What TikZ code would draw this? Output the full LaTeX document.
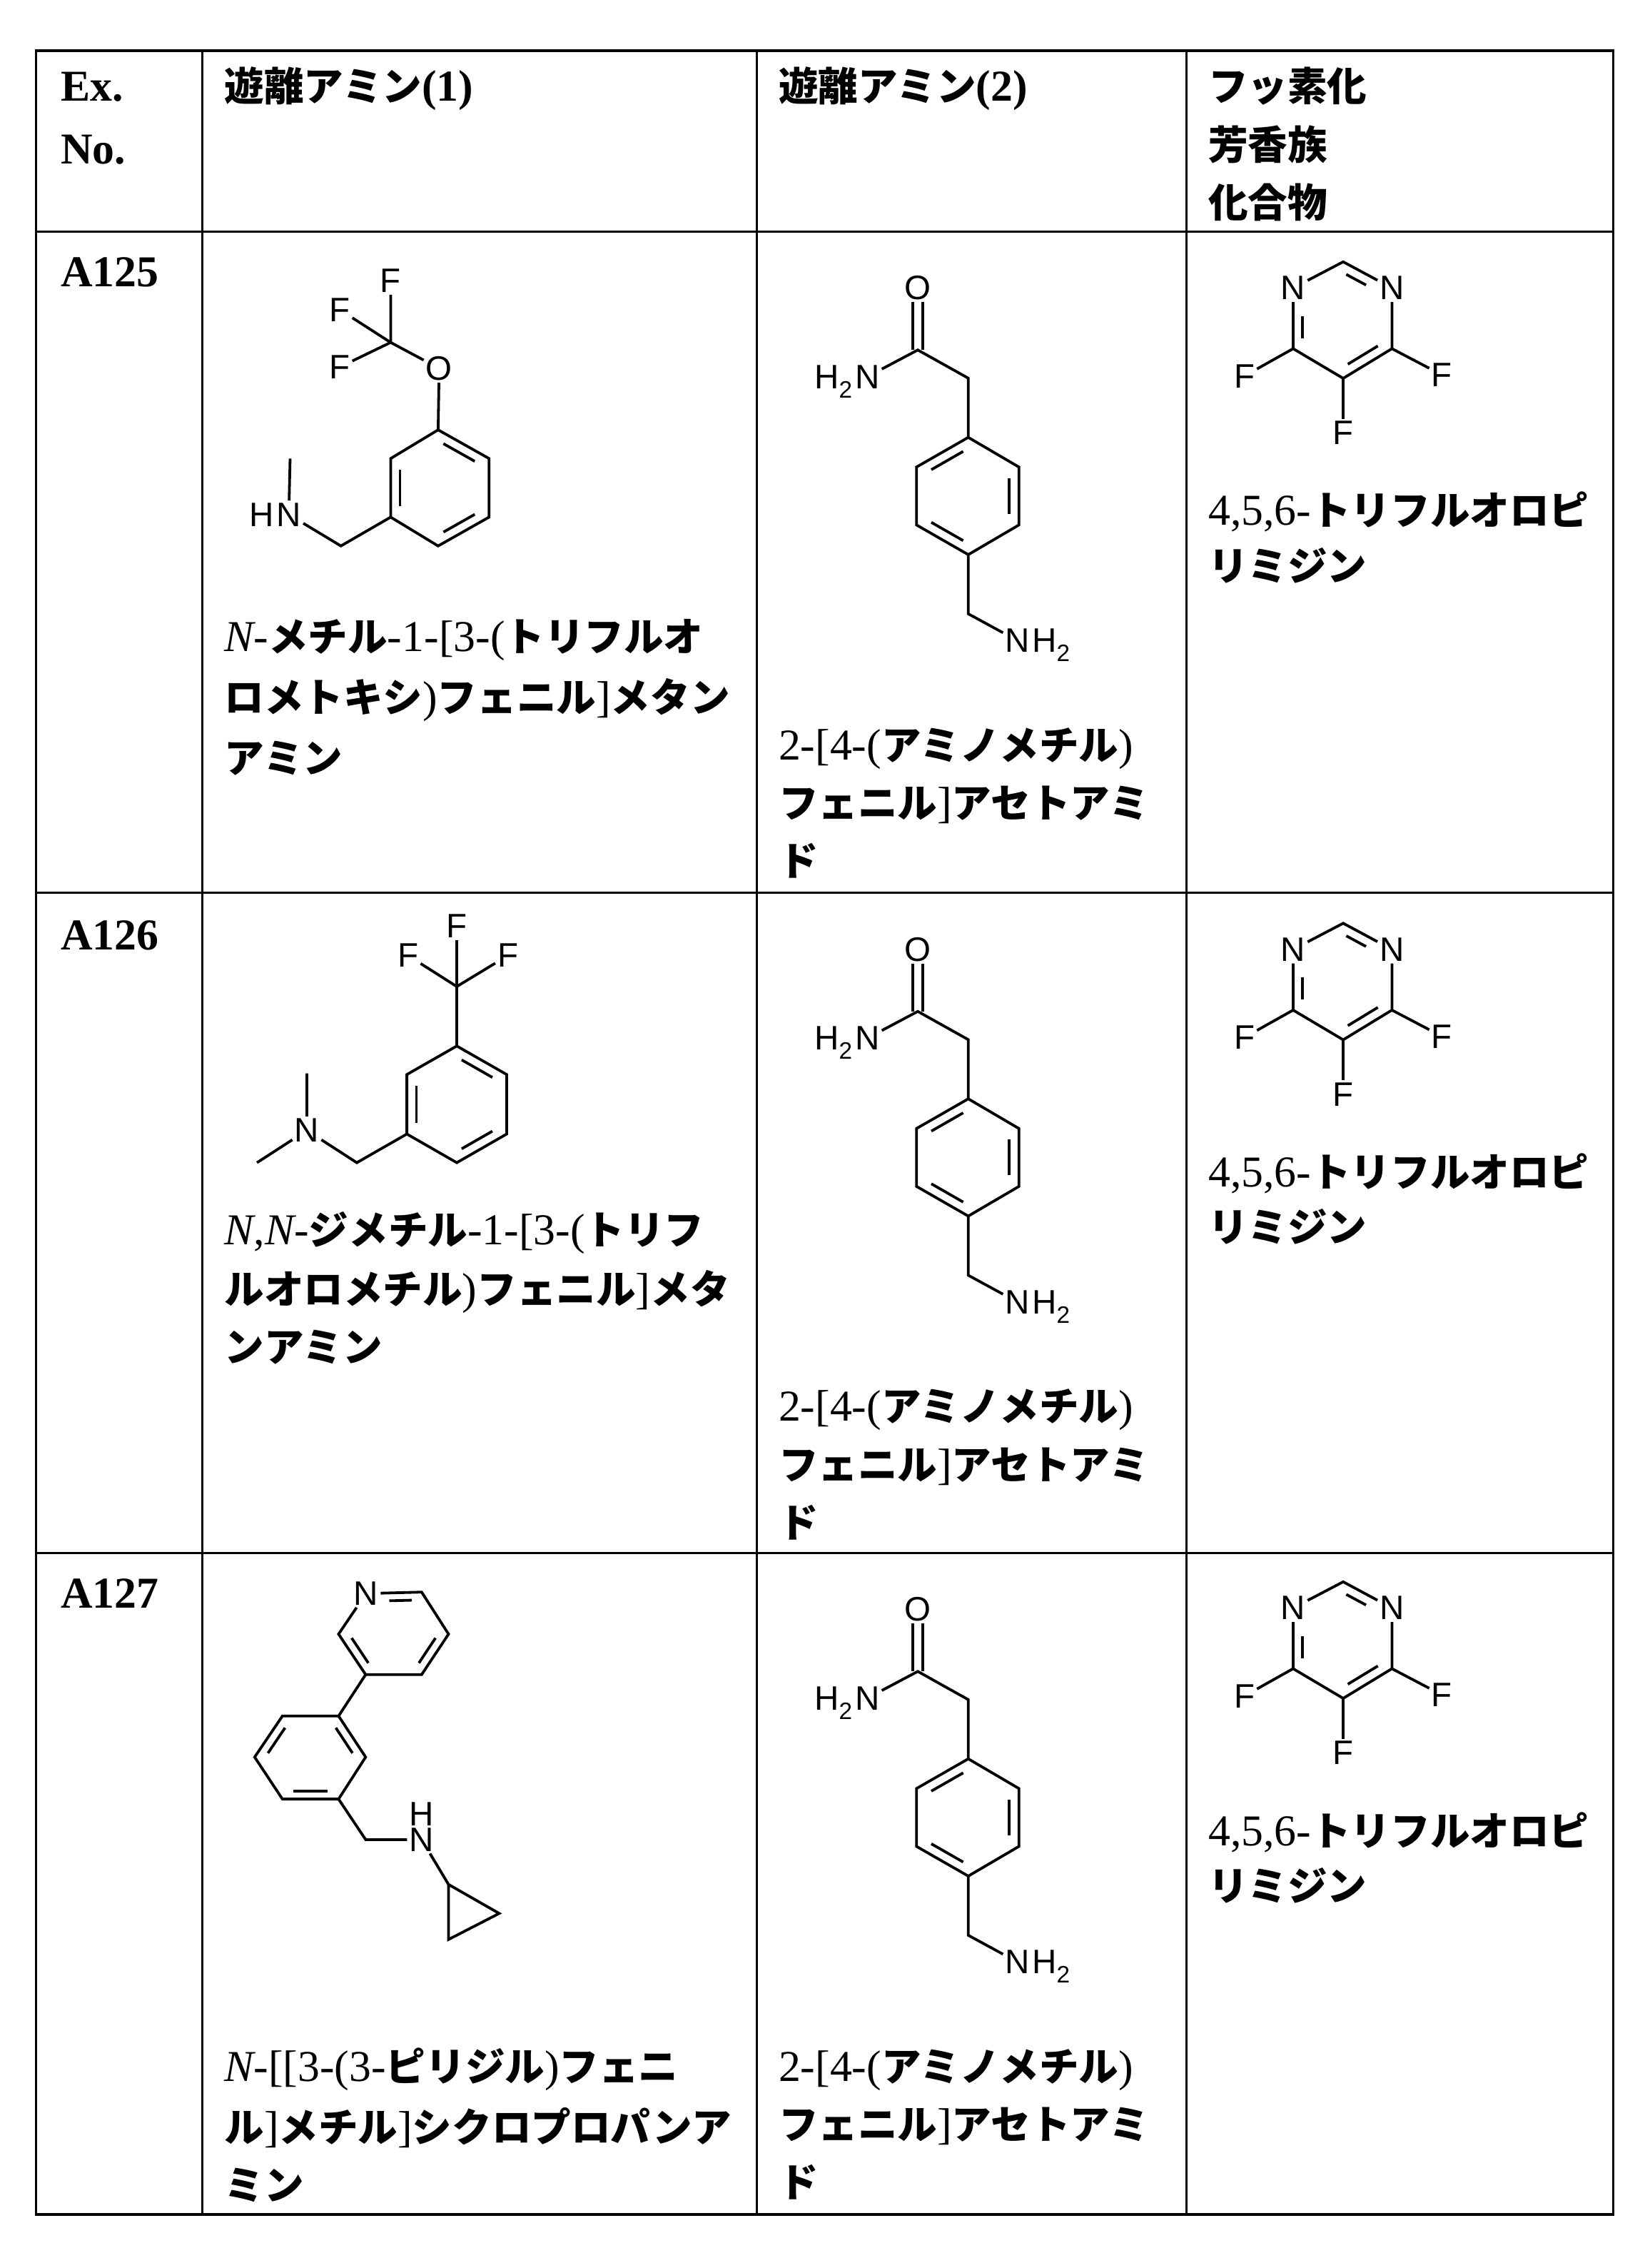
\documentclass[tikz,border=0pt]{standalone}
\usepackage{fontspec}
\setmainfont{Liberation Serif}
\newfontfamily\jpf[Scale=0.9]{Noto Sans CJK JP}
\newcommand\jp{\jpf\bfseries}
\newfontfamily\atomf{Liberation Sans}
\usetikzlibrary{calc}
\tikzset{
 bond/.style={line width=3.2pt},
 atom/.style={font=\atomf\fontsize{40}{40}\selectfont, inner sep=2.5pt},
 lab/.style={font=\atomf\fontsize{40}{40}\selectfont, inner sep=0pt},
 txt/.style={anchor=base west, inner sep=0pt, font=\fontsize{52}{70}\selectfont},
 hd/.style={txt, font=\fontsize{52}{70}\selectfont\bfseries},
 grid/.style={line width=2.6pt}
}
\newcommand\inn[5]{\draw[bond] ($(#1)!#4!(#2)!0.19!(#3)$) -- ($(#2)!#5!(#1)!0.19!(#3)$);}
\newcommand\amide[2]{%
\begin{scope}[shift={(0,#1)}]
\node[atom] (#2O) at (634.3,198.9) {O};
\coordinate (#2C) at (634.3,241.8);
\node[atom] (#2N) at (599.4,260.3) {N};
\node[lab, anchor=base east] (#2H) at (#2N.base west) {H\textsubscript{2}};
\coordinate (#2a) at (669.2,261.3);
\coordinate (#2t) at (669.2,302.2);
\coordinate (#2ur) at (704.2,322.7);
\coordinate (#2lr) at (704.2,362.7);
\coordinate (#2b) at (669.2,383.2);
\coordinate (#2ll) at (633.4,362.7);
\coordinate (#2ul) at (633.4,322.7);
\coordinate (#2c) at (669,342.7);
\coordinate (#2d) at (669.2,424.1);
\node[atom] (#2M) at (703.2,442.6) {N};
\node[lab, anchor=base west] (#2HH) at (#2M.base east) {H\textsubscript{2}};
\end{scope}
\draw[bond] ($(#2C)+(-3.5,0)$) -- ($(#2O.south)+(-3.5,0)$);
\draw[bond] ($(#2C)+(3.5,0)$) -- ($(#2O.south)+(3.5,0)$);
\draw[bond] (#2N) -- (#2C) -- (#2a) -- (#2t);
\draw[bond] (#2t) -- (#2ur) -- (#2lr) -- (#2b) -- (#2ll) -- (#2ul) -- cycle;
\draw[bond] (#2b) -- (#2d) -- (#2M);
\inn{#2ul}{#2t}{#2c}{0.12}{0.12}
\inn{#2ur}{#2lr}{#2c}{0.12}{0.12}
\inn{#2ll}{#2b}{#2c}{0.12}{0.12}
}
\newcommand\pyrim[2]{%
\begin{scope}[shift={(0,#1)}]
\coordinate (#2C2) at (928.3,180.9);
\node[atom] (#2N1) at (893.7,199) {N};
\node[atom] (#2N3) at (962,199) {N};
\coordinate (#2C4) at (893.7,240.9);
\coordinate (#2C5) at (928.3,261.4);
\coordinate (#2C6) at (962,240.9);
\coordinate (#2c) at (928,220.5);
\node[atom] (#2F4) at (860,259.8) {F};
\node[atom] (#2F6) at (996.5,259) {F};
\node[atom] (#2F5) at (928.3,299) {F};
\end{scope}
\draw[bond] (#2N1) -- (#2C2) -- (#2N3);
\draw[bond] (#2N3) -- (#2C6) -- (#2C5) -- (#2C4) -- (#2N1);
\draw[bond] (#2C4) -- (#2F4);
\draw[bond] (#2C6) -- (#2F6);
\draw[bond] (#2C5) -- (#2F5);
\inn{#2C2}{#2N3}{#2c}{0.08}{0.42}
\inn{#2C4}{#2N1}{#2c}{0.1}{0.45}
\inn{#2C6}{#2C5}{#2c}{0.12}{0.12}
}
\begin{document}
\begin{tikzpicture}[x=0.06cm,y=-0.06cm]
\fill[white] (0,0) rectangle (1140,1567);
\useasboundingbox (0,0) rectangle (1140,1567);
% grid
\coordinate (g1) at (25,35);
\coordinate (g2) at (1115,1530);
\draw[grid] (g1) rectangle (g2);
\foreach \x in {140,523,820} \draw[grid] (\x,35) -- (\x,1530);
\foreach \y in {160,617,1073} \draw[grid] (25,\y) -- (1115,\y);
% headers
\node[hd] (h1) at (42,70) {Ex.};
\node[hd] (h2) at (42,113) {No.};
\node[hd] (h3) at (155,70) {{\jp 遊離アミン}(1)};
\node[hd] (h4) at (538,70) {{\jp 遊離アミン}(2)};
\node[hd] (h5) at (835,70) {\jp フッ素化};
\node[hd] (h6) at (835,110) {\jp 芳香族};
\node[hd] (h7) at (835,150) {\jp 化合物};
\node[hd] (e1) at (42,198) {A125};
\node[hd] (e2) at (42,656) {A126};
\node[hd] (e3) at (42,1111) {A127};
% A125 col1
\coordinate (at) at (302.8,297);
\coordinate (aur) at (338,316.8);
\coordinate (alr) at (338,357.3);
\coordinate (ab) at (302.8,377.2);
\coordinate (all) at (270,357.3);
\coordinate (aul) at (270,316.8);
\coordinate (ac) at (304,337);
\node[atom] (aO) at (303.5,254.5) {O};
\coordinate (aC) at (270,236.6);
\node[atom] (aF1) at (270,194) {F};
\node[atom] (aF2) at (234.8,214) {F};
\node[atom] (aF3) at (234.8,253.6) {F};
\coordinate (aa) at (235.6,377.2);
\node[atom] (aN) at (199.6,355.5) {N};
\node[lab, anchor=base east] (aH) at (aN.base west) {H};
\coordinate (ame) at (200.5,316.8);
\draw[bond] (at) -- (aur) -- (alr) -- (ab) -- (all) -- (aul) -- cycle;
\draw[bond] (at) -- (aO) -- (aC) -- (aF1);
\draw[bond] (aC) -- (aF2);
\draw[bond] (aC) -- (aF3);
\draw[bond] (all) -- (aa) -- (aN) -- (ame);
\inn{at}{aur}{ac}{0.12}{0.12}
\inn{aul}{all}{ac}{0.12}{0.12}
\inn{alr}{ab}{ac}{0.12}{0.12}
\node[txt] (t11) at (155,450) {{\itshape N}-{\jp メチル}-1-[3-({\jp トリフルオ}};
\node[txt] (t12) at (155,492) {{\jp ロメトキシ}){\jp フェニル}]{\jp メタン}};
\node[txt] (t13) at (155,534) {\jp アミン};
% A126 col1
\coordinate (bt) at (315.7,722.7);
\coordinate (bur) at (350.2,742.4);
\coordinate (blr) at (350.2,783.5);
\coordinate (bb) at (315.7,803.3);
\coordinate (bll) at (281.2,783.5);
\coordinate (bul) at (281.2,742.4);
\coordinate (bc) at (315.7,763);
\coordinate (bC) at (315.7,681.6);
\node[atom] (bF1) at (315.7,639.7) {F};
\node[atom] (bF2) at (282,660.2) {F};
\node[atom] (bF3) at (351,660.2) {F};
\coordinate (ba) at (246.6,803.3);
\node[atom] (bN) at (212.1,781) {N};
\coordinate (bm1) at (212.1,741.6);
\coordinate (bm2) at (177.6,803.3);
\draw[bond] (bt) -- (bur) -- (blr) -- (bb) -- (bll) -- (bul) -- cycle;
\draw[bond] (bt) -- (bC) -- (bF1);
\draw[bond] (bC) -- (bF2);
\draw[bond] (bC) -- (bF3);
\draw[bond] (bll) -- (ba) -- (bN) -- (bm1);
\draw[bond] (bN) -- (bm2);
\inn{bt}{bur}{bc}{0.12}{0.12}
\inn{bul}{bll}{bc}{0.12}{0.12}
\inn{blr}{bb}{bc}{0.12}{0.12}
\node[txt] (t21) at (155,860) {{\itshape N},{\itshape N}-{\jp ジメチル}-1-[3-({\jp トリフ}};
\node[txt] (t22) at (155,901) {{\jp ルオロメチル}){\jp フェニル}]{\jp メタ}};
\node[txt] (t23) at (155,941) {\jp ンアミン};
% A127 col1
\node[atom] (cN) at (253,1101) {N};
\coordinate (cp1) at (291.4,1100);
\coordinate (cp2) at (310,1129);
\coordinate (cp3) at (291.4,1157);
\coordinate (cp4) at (252.7,1157);
\coordinate (cp5) at (234,1129);
\coordinate (cpc) at (272,1129);
\coordinate (cb1) at (195.2,1185.6);
\coordinate (cb2) at (234,1185.6);
\coordinate (cb3) at (252.7,1214);
\coordinate (cb4) at (234,1243);
\coordinate (cb5) at (195.2,1243);
\coordinate (cb6) at (176,1214);
\coordinate (cbc) at (214.5,1214);
\coordinate (ca) at (252.7,1271);
\node[atom] (cNH) at (291.4,1271) {N};
\node[lab, anchor=south] (cH) at (cNH.north) {H};
\coordinate (cy1) at (310,1302);
\coordinate (cy2) at (310,1340);
\coordinate (cy3) at (345,1322);
\draw[bond] (cN) -- (cp1) -- (cp2) -- (cp3) -- (cp4) -- (cp5) -- (cN);
\draw[bond] (cp4) -- (cb2);
\draw[bond] (cb1) -- (cb2) -- (cb3) -- (cb4) -- (cb5) -- (cb6) -- cycle;
\draw[bond] (cb4) -- (ca) -- (cNH) -- (cy1);
\draw[bond] (cy1) -- (cy2) -- (cy3) -- cycle;
\inn{cN}{cp1}{cpc}{0.4}{0.1}
\inn{cp5}{cp4}{cpc}{0.12}{0.12}
\inn{cp2}{cp3}{cpc}{0.12}{0.12}
\inn{cb2}{cb3}{cbc}{0.12}{0.12}
\inn{cb1}{cb6}{cbc}{0.12}{0.12}
\inn{cb5}{cb4}{cbc}{0.12}{0.12}
\node[txt] (t31) at (155,1438) {{\itshape N}-[[3-(3-{\jp ピリジル}){\jp フェニ}};
\node[txt] (t32) at (155,1480) {{\jp ル}]{\jp メチル}]{\jp シクロプロパンア}};
\node[txt] (t33) at (155,1520) {\jp ミン};
% col2
\amide{0}{p}
\amide{457}{q}
\amide{913}{r}
\foreach \d/\n in {0/a,457/b,913/c}{
\node[txt] (u1\n) at (538,525+\d) {2-[4-({\jp アミノメチル})};
\node[txt] (u2\n) at (538,565+\d) {{\jp フェニル}]{\jp アセトアミ}};
\node[txt] (u3\n) at (538,605+\d) {\jp ド};
}
% col3
\pyrim{0}{x}
\pyrim{457}{y}
\pyrim{912}{z}
\foreach \d/\n in {0/a,457/b,912/c}{
\node[txt] (v1\n) at (835,363+\d) {4,5,6-{\jp トリフルオロピ}};
\node[txt] (v2\n) at (835,401+\d) {\jp リミジン};
}
\end{tikzpicture}
\end{document}
